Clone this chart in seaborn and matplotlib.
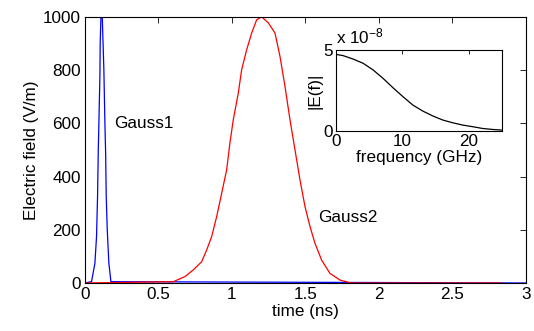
import matplotlib
matplotlib.use("Agg")
import matplotlib.pyplot as plt
import seaborn as sns
import pandas as pd
from matplotlib.ticker import FuncFormatter

sns.set_theme(style="white")
plt.rcParams["font.family"] = ["Liberation Sans", "DejaVu Sans"]
plt.rcParams["text.color"] = "black"
plt.rcParams["axes.labelcolor"] = "black"
plt.rcParams["mathtext.fontset"] = "custom"
plt.rcParams["mathtext.rm"] = "Liberation Sans"
plt.rcParams["mathtext.it"] = "Liberation Sans"

# Gauss1 pulse (time in ns, field in V/m)
gauss1_time = [0.0, 0.045, 0.068, 0.079, 0.086, 0.091, 0.095, 0.102, 0.104, 0.109,
               0.118, 0.129, 0.136, 0.141, 0.145, 0.152, 0.163, 0.177, 3.0]
gauss1_field = [0, 5, 74, 174, 325, 500, 600, 776, 900, 1000,
                1000, 801, 600, 487, 325, 199, 74, 5, 0]

# Gauss2 pulse
gauss2_time = [0.0, 0.601, 0.680, 0.737, 0.794, 0.828, 0.862, 0.896, 0.930, 0.964,
               0.986, 1.009, 1.043, 1.066, 1.100, 1.134, 1.168, 1.202, 1.247, 1.293,
               1.327, 1.361, 1.395, 1.429, 1.463, 1.497, 1.531, 1.565, 1.610, 1.667,
               1.735, 1.803, 1.85, 2.83]
gauss2_field = [0, 5, 24, 49, 80, 124, 174, 249, 337, 425,
                525, 613, 713, 801, 876, 939, 989, 1000, 978, 939,
                851, 738, 613, 500, 387, 287, 212, 149, 86, 36,
                11, 1, 0, 0]

# Spectrum magnitude (inset)
freq_ghz = [0, 1.1, 2.6, 4.1, 5.6, 7.1, 8.6, 10.1, 11.6, 13.1, 14.6,
            16.1, 17.6, 19.1, 20.6, 22.1, 23.6, 25]
spectrum = [4.73e-8, 4.65e-8, 4.44e-8, 4.18e-8, 3.77e-8, 3.25e-8, 2.67e-8,
            2.12e-8, 1.60e-8, 1.23e-8, 0.93e-8, 0.68e-8, 0.51e-8, 0.37e-8,
            0.27e-8, 0.16e-8, 0.10e-8, 0.06e-8]

x_ticks = [0, 0.5, 1, 1.5, 2, 2.5, 3]
y_ticks = [0, 200, 400, 600, 800, 1000]
inset_x_ticks = [0, 10, 20]
inset_y_ticks = [0, 5e-8]

FS = 12.3

df1 = pd.DataFrame({"t": gauss1_time, "E": gauss1_field})
df2 = pd.DataFrame({"t": gauss2_time, "E": gauss2_field})
dfs = pd.DataFrame({"f": freq_ghz, "S": spectrum})

fig = plt.figure(figsize=(5.34, 3.31), dpi=100)
ax = fig.add_axes([0.159, 0.145, 0.826, 0.804])

sns.lineplot(data=df1, x="t", y="E", ax=ax, color=(0, 0, 1), lw=0.9)
sns.lineplot(data=df2, x="t", y="E", ax=ax, color=(1, 0, 0), lw=0.9)

ax.set_xlim(0, 3)
ax.set_ylim(0, 1000)
ax.set_xticks(x_ticks)
ax.set_xticklabels(["0", "0.5", "1", "1.5", "2", "2.5", "3"])
ax.set_yticks(y_ticks)
ax.set_xlabel("time (ns)", fontsize=FS, labelpad=1)
ax.set_ylabel("Electric field (V/m)", fontsize=FS, labelpad=3)
ax.tick_params(direction="in", length=4, width=0.6, labelsize=FS, colors="black",
               top=True, right=True, pad=3)
for s in ax.spines.values():
    s.set_color("black")
    s.set_linewidth(0.8)

ax.text(0.197, 601, "Gauss1", fontsize=FS, va="center", ha="left")
ax.text(1.587, 248, "Gauss2", fontsize=FS, va="center", ha="left")

ins = fig.add_axes([0.629, 0.604, 0.311, 0.245])
sns.lineplot(data=dfs, x="f", y="S", ax=ins, color="black", lw=0.9)
ins.set_xlim(0, 25)
ins.set_ylim(0, 5e-8)
ins.set_xticks(inset_x_ticks)
ins.set_yticks(inset_y_ticks)
ins.yaxis.set_major_formatter(FuncFormatter(lambda v, p: f"{v / 1e-8:g}"))
ins.set_xlabel("frequency (GHz)", fontsize=FS, labelpad=1)
ins.set_ylabel("|E(f)|", fontsize=FS, labelpad=1)
ins.tick_params(direction="in", length=3, width=0.6, labelsize=FS, colors="black",
                top=True, right=True, pad=2)
for s in ins.spines.values():
    s.set_color("black")
    s.set_linewidth(0.8)
ins.text(0.0, 1.04, r"x 10$^{-8}$", transform=ins.transAxes, fontsize=FS,
         ha="left", va="bottom")

fig.savefig("out.png", dpi=100)
